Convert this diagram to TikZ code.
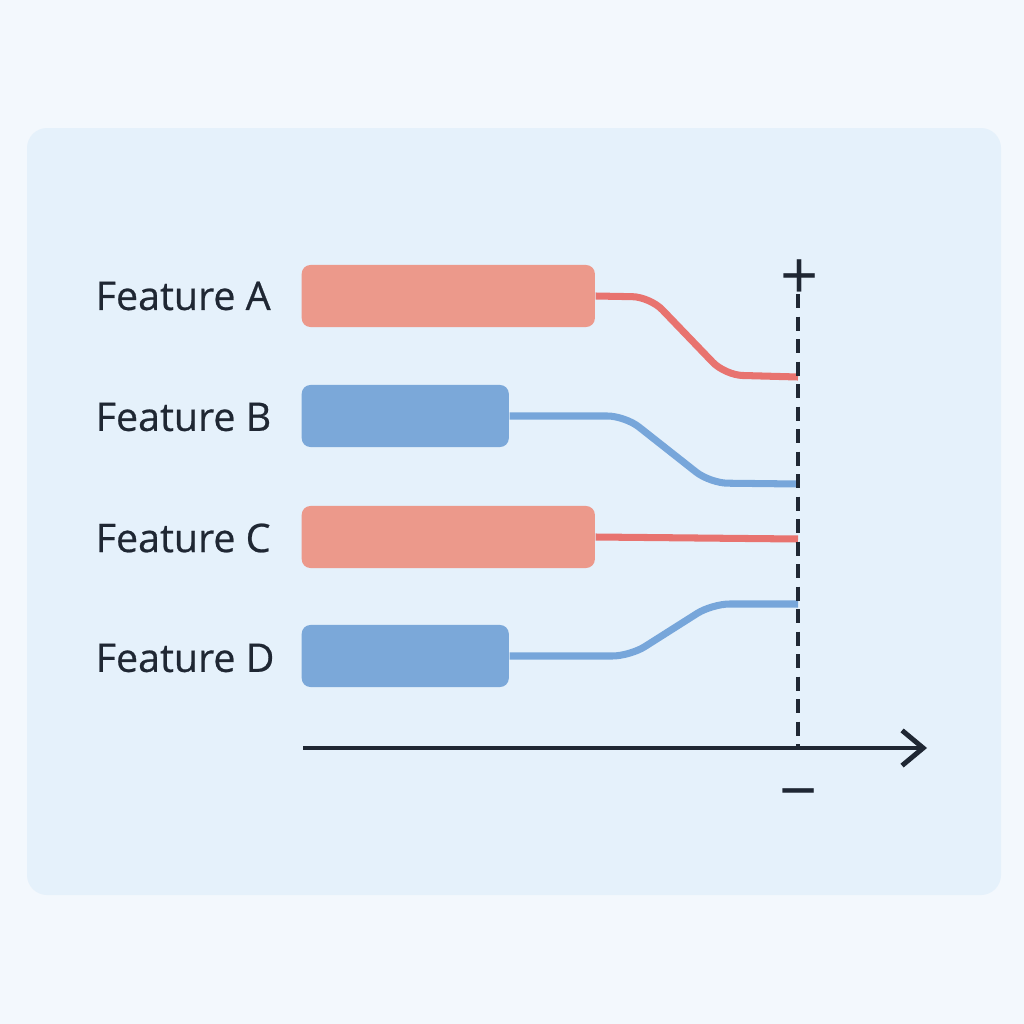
\documentclass[tikz,border=0pt]{standalone}
\usepackage{fontspec}
\setmainfont{Open Sans}
\newfontfamily\lblfont[FakeBold=0.6]{Open Sans}
\usetikzlibrary{arrows.meta}
\definecolor{pagebg}{HTML}{F3F8FD}
\definecolor{panelbg}{HTML}{E5F1FB}
\definecolor{barred}{HTML}{EC998B}
\definecolor{linered}{HTML}{E8736F}
\definecolor{barblue}{HTML}{7BA8D9}
\definecolor{lineblue}{HTML}{77A6DA}
\definecolor{ink}{HTML}{1F2733}
\begin{document}
\begin{tikzpicture}[
    x=0.01cm, y=-0.01cm,
    bar/.style={rectangle, rounded corners=2.5pt, minimum height=0.62cm, inner sep=0pt, anchor=west},
    redbar/.style={bar, fill=barred, minimum width=2.93cm},
    bluebar/.style={bar, fill=barblue, minimum width=2.07cm},
    lbl/.style={anchor=west, inner sep=0pt, text=ink, font=\lblfont\fontsize{11.2}{13}\selectfont},
    link/.style={line width=2pt, rounded corners=5pt},
    sign/.style={text=ink, inner sep=0pt, font=\fontsize{19}{21}\selectfont}
]
% Background and panel
\fill[pagebg] (0,0) rectangle (1024,1024);
\fill[panelbg, rounded corners=5.7pt] (27,128) rectangle (1001,895);

% Labels
\node[lbl] (lblA) at (95,296) {Feature A};
\node[lbl] (lblB) at (95,417) {Feature B};
\node[lbl] (lblC) at (95,538) {Feature C};
\node[lbl] (lblD) at (95,658) {Feature D};

% Bars
\node[redbar] (barA) at (301,296) {};
\node[bluebar] (barB) at (301,416) {};
\node[redbar] (barC) at (301,537) {};
\node[bluebar] (barD) at (301,656) {};

% Ends on the zero line
\coordinate (endA) at (798,377);
\coordinate (endB) at (798,484);
\coordinate (endC) at (798,539);
\coordinate (endD) at (798,604);

% Connections
\draw[link, linered] (barA.east) -- (650,297) -- (725,375) -- (endA);
\draw[link, lineblue] (barB.east) -- (625,416) -- (710,483) -- (endB);
\draw[link, linered] (barC.east) -- (endC);
\draw[link, lineblue] (barD.east) -- (630,656) -- (712,604) -- (endD);

% Axis
\coordinate (axL) at (303,748);
\coordinate (axR) at (927,748);
\coordinate (zeroT) at (798,294);
\draw[ink, line width=1.4pt, -{Straight Barb[length=6pt, width=10pt, line width=1.4pt]}] (axL) -- (axR);
\draw[ink, line width=1.1pt, dash pattern=on 4pt off 2.4pt] (zeroT) -- (zeroT |- axL);

% Signs
\node[sign] (plus) at (800,280) {+};
\node[sign] (minus) at (799,802) {−};
\end{tikzpicture}
\end{document}
